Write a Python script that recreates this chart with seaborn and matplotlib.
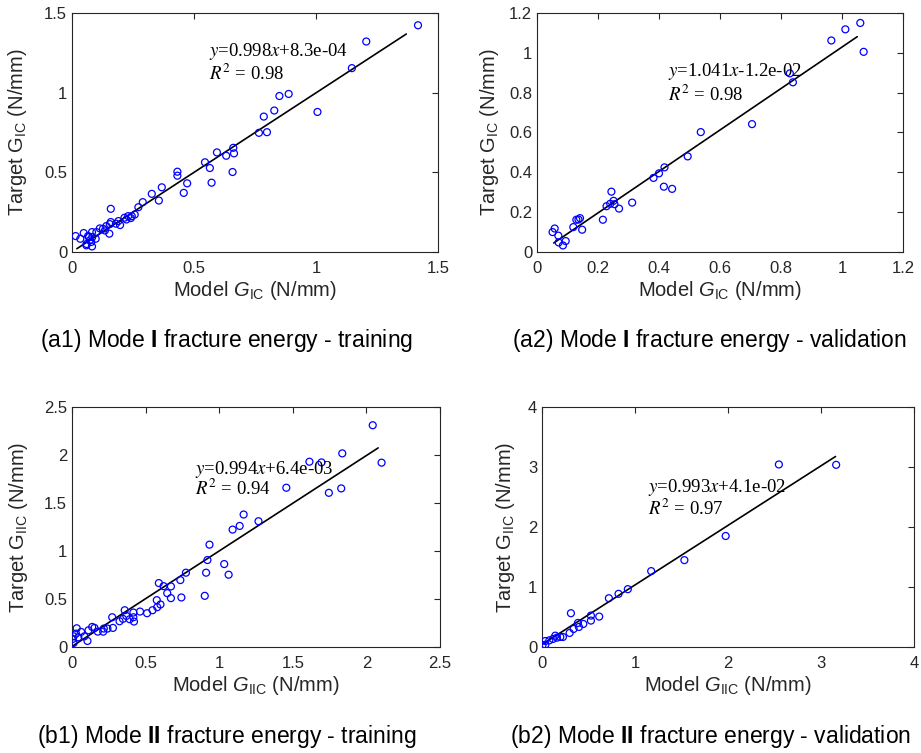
import numpy as np
import pandas as pd
import matplotlib
matplotlib.use("Agg")
import matplotlib.pyplot as plt
import seaborn as sns

# ---------------- data ----------------
a1_model = [1.418, 1.206, 1.147, 0.888, 0.850, 1.006, 0.829, 0.786, 0.766, 0.799,
            0.661, 0.664, 0.594, 0.632, 0.545, 0.565, 0.658, 0.572, 0.432, 0.432,
            0.472, 0.458, 0.368, 0.327, 0.356, 0.290, 0.272, 0.257, 0.241, 0.230,
            0.223, 0.197, 0.190, 0.159, 0.159, 0.155, 0.141, 0.127, 0.114, 0.153,
            0.100, 0.082, 0.083, 0.097, 0.048, 0.015, 0.034, 0.066, 0.073, 0.059,
            0.082, 0.079, 0.215, 0.245, 0.180, 0.135, 0.060, 0.070]
a1_target = [1.423, 1.321, 1.154, 0.992, 0.979, 0.879, 0.888, 0.850, 0.748, 0.752,
             0.654, 0.619, 0.625, 0.604, 0.563, 0.527, 0.502, 0.435, 0.504, 0.479,
             0.431, 0.371, 0.406, 0.365, 0.323, 0.313, 0.281, 0.235, 0.213, 0.225,
             0.204, 0.169, 0.194, 0.271, 0.188, 0.175, 0.163, 0.146, 0.148, 0.115,
             0.125, 0.125, 0.094, 0.083, 0.119, 0.100, 0.083, 0.100, 0.073, 0.042,
             0.035, 0.063, 0.215, 0.225, 0.178, 0.135, 0.050, 0.095]

a2_model = [1.060, 1.011, 0.965, 1.071, 0.829, 0.839, 0.705, 0.537, 0.494, 0.418,
            0.400, 0.382, 0.416, 0.443, 0.312, 0.244, 0.251, 0.240, 0.228, 0.254,
            0.269, 0.216, 0.141, 0.136, 0.129, 0.119, 0.148, 0.058, 0.051, 0.070,
            0.071, 0.085, 0.094]
a2_target = [1.150, 1.118, 1.062, 1.005, 0.897, 0.852, 0.642, 0.602, 0.480, 0.425,
             0.395, 0.372, 0.328, 0.317, 0.248, 0.303, 0.257, 0.242, 0.230, 0.240,
             0.218, 0.162, 0.170, 0.163, 0.162, 0.125, 0.112, 0.118, 0.100, 0.082,
             0.048, 0.033, 0.055]

b1_model = [2.043, 2.103, 1.836, 1.613, 1.695, 1.829, 1.745, 1.456, 1.267, 1.166,
            1.139, 1.091, 0.934, 0.920, 1.034, 1.064, 0.911, 0.902, 0.774, 0.736,
            0.743, 0.672, 0.672, 0.647, 0.590, 0.622, 0.601, 0.576, 0.579, 0.547,
            0.510, 0.462, 0.417, 0.417, 0.421, 0.392, 0.358, 0.369, 0.346, 0.323,
            0.273, 0.278, 0.241, 0.216, 0.212, 0.175, 0.153, 0.137, 0.112, 0.105,
            0.084, 0.062, 0.032, 0.027, 0.043, 0.011, 0.011, 0.005]
b1_target = [2.310, 1.920, 2.017, 1.930, 1.923, 1.652, 1.606, 1.659, 1.310, 1.380,
             1.261, 1.223, 1.066, 0.906, 0.864, 0.753, 0.774, 0.533, 0.774, 0.697,
             0.516, 0.631, 0.509, 0.561, 0.666, 0.634, 0.443, 0.488, 0.415, 0.383,
             0.352, 0.369, 0.359, 0.310, 0.265, 0.289, 0.383, 0.324, 0.293, 0.268,
             0.310, 0.199, 0.192, 0.192, 0.160, 0.160, 0.199, 0.209, 0.174, 0.063,
             0.111, 0.157, 0.195, 0.139, 0.101, 0.111, 0.042, 0.084]

b2_model = [3.163, 2.547, 1.975, 1.531, 1.174, 0.923, 0.823, 0.719, 0.615, 0.526,
            0.526, 0.444, 0.397, 0.386, 0.340, 0.311, 0.297, 0.225, 0.197, 0.161,
            0.143, 0.118, 0.079, 0.036, 0.036, 0.005]
b2_target = [3.036, 3.042, 1.850, 1.448, 1.265, 0.964, 0.886, 0.813, 0.507, 0.524,
             0.440, 0.384, 0.334, 0.401, 0.301, 0.563, 0.234, 0.167, 0.167, 0.156,
             0.189, 0.134, 0.111, 0.100, 0.039, 0.028]

slopes = [0.998, 1.041, 0.994, 0.993]
intercepts = [8.3e-04, -1.2e-02, 6.4e-03, 4.1e-02]
line_x_ranges = [[0.02, 1.37], [0.055, 1.05], [0.0, 2.08], [0.0, 3.156]]
eq_texts = ["0.998$x$+8.3e-04", "1.041$x$-1.2e-02", "0.994$x$+6.4e-03", "0.993$x$+4.1e-02"]
r2_values = ["0.98", "0.98", "0.94", "0.97"]
mode_subs = ["IC", "IC", "IIC", "IIC"]
captions = [r"(a1) Mode $\mathbf{I}$ fracture energy - training",
            r"(a2) Mode $\mathbf{I}$ fracture energy - validation",
            r"(b1) Mode $\mathbf{II}$ fracture energy - training",
            r"(b2) Mode $\mathbf{II}$ fracture energy - validation"]
ax_limits = [1.5, 1.2, 2.5, 4.0]
tick_values = [[0, 0.5, 1, 1.5], [0, 0.2, 0.4, 0.6, 0.8, 1, 1.2],
               [0, 0.5, 1, 1.5, 2, 2.5], [0, 1, 2, 3, 4]]
tick_labels = [["0", "0.5", "1", "1.5"], ["0", "0.2", "0.4", "0.6", "0.8", "1", "1.2"],
               ["0", "0.5", "1", "1.5", "2", "2.5"], ["0", "1", "2", "3", "4"]]
# equation anchor (data coords): x_left, y line1, y line2
eq_pos = [(0.561, 1.257, 1.118), (0.428, 0.905, 0.790),
          (0.836, 1.852, 1.650), (1.138, 2.665, 2.305)]

models = [a1_model, a2_model, b1_model, b2_model]
targets = [a1_target, a2_target, b1_target, b2_target]

# ---------------- style ----------------
sns.set_style("white")
plt.rcParams['font.family'] = ['Liberation Sans', 'DejaVu Sans']
plt.rcParams['mathtext.fontset'] = 'custom'
plt.rcParams['mathtext.rm'] = 'Liberation Sans'
plt.rcParams['mathtext.it'] = 'Liberation Sans:italic'
plt.rcParams['mathtext.bf'] = 'Liberation Sans:bold'

fig = plt.figure(figsize=(9.21, 7.53), dpi=100)
W, H = 921, 753
# axes boxes in pixels: left, right, top, bottom
boxes = [(72, 438, 13, 252), (537, 903, 13, 252),
         (72, 440, 407, 647), (542, 914, 407, 647)]
ylabel_x = [18, 489, 19, 505]
caption_pos = [(227, 340), (709, 340), (227, 737), (711, 737)]

dark = '#262626'
for i in range(4):
    l, r, t, b = boxes[i]
    ax = fig.add_axes([l / W, 1 - b / H, (r - l) / W, (b - t) / H])
    df = pd.DataFrame({'model': models[i], 'target': targets[i]})
    sns.scatterplot(data=df, x='model', y='target', ax=ax, marker='o',
                    facecolors='none', edgecolor='blue', linewidth=0.9, s=25,
                    legend=False, zorder=3)
    lx = np.array(line_x_ranges[i])
    ly = slopes[i] * lx + intercepts[i]
    sns.lineplot(x=lx, y=ly, ax=ax, color='black', linewidth=1.2, zorder=2)
    lim = ax_limits[i]
    ax.set_xlim(0, lim)
    ax.set_ylim(0, lim)
    ax.set_xticks(tick_values[i])
    ax.set_xticklabels(tick_labels[i])
    ax.set_yticks(tick_values[i])
    ax.set_yticklabels(tick_labels[i])
    ax.tick_params(direction='in', top=True, right=True, length=4, width=0.8,
                   labelsize=12, colors=dark)
    ax.tick_params(axis='x', pad=6.5)
    ax.tick_params(axis='y', pad=3.5)
    for sp in ax.spines.values():
        sp.set_color(dark)
        sp.set_linewidth(0.8)
    sub = mode_subs[i]
    ax.set_xlabel(r'Model $G_{\mathrm{%s}}$ (N/mm)' % sub, fontsize=14.5,
                  color=dark, labelpad=2)
    ax.set_ylabel(r'Target $\mathrm{G}_{\mathrm{%s}}$ (N/mm)' % sub, fontsize=14.5,
                  color=dark)
    ax.yaxis.set_label_coords((ylabel_x[i] - l) / (r - l), 0.5)
    ax.yaxis.label.set_va('center')
    ex, ey1, ey2 = eq_pos[i]
    t1 = ax.text(ex, ey1, '$y$=' + eq_texts[i], fontsize=13.5, va='center',
                 ha='left', family='Liberation Serif', color='black')
    t1.set_math_fontfamily('stix')
    t2 = ax.text(ex, ey2, '$R^2$ = ' + r2_values[i], fontsize=13.5, va='center',
                 ha='left', family='Liberation Serif', color='black')
    t2.set_math_fontfamily('stix')
    cx, cy = caption_pos[i]
    fig.text(cx / W, 1 - cy / H, captions[i], fontsize=16.5, ha='center',
             va='center', color='black')

fig.savefig('out.png', dpi=100)
